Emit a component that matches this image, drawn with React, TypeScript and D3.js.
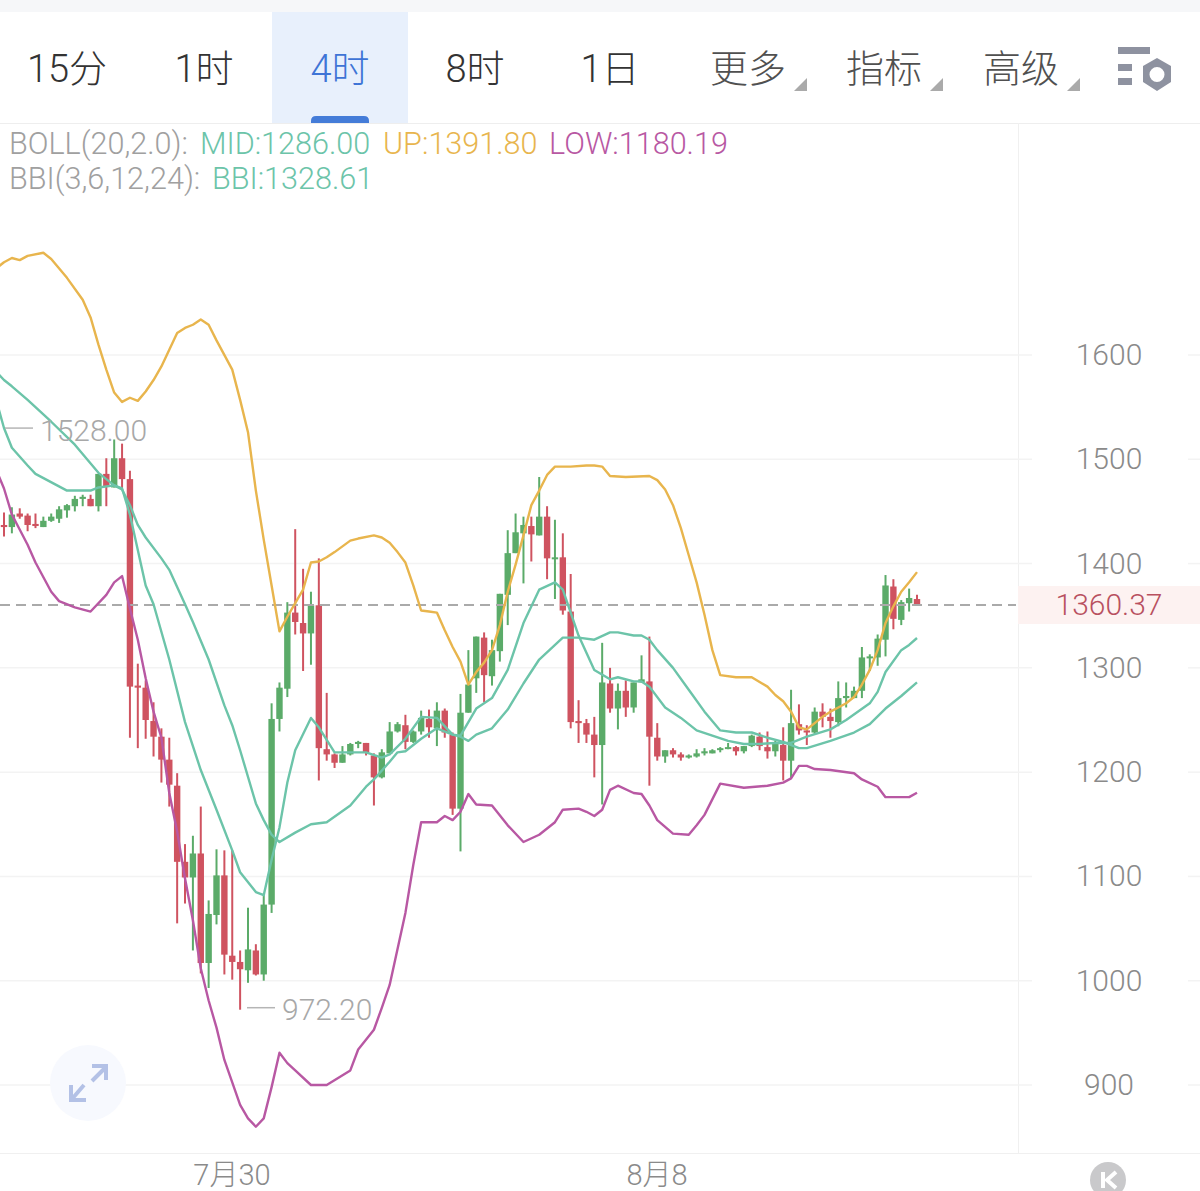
import React from "react";
import * as d3 from "d3";

const timeframeTabs = ["15分", "1时", "4时", "8时", "1日"];
const menuTabs = ["更多", "指标", "高级"];
const priceTicks = [900, 1000, 1100, 1200, 1300, 1400, 1500, 1600];
const dateTicks = [{ bar: 29, label: "7月30" }, { bar: 83, label: "8月8" }];
const lastPrice = 1360.37;
const highMark = 1528.0;
const lowMark = 972.2;

const opens = [1437,1435,1448,1446,1438,1435,1441,1443,1451,1455,
1462,1462,1455,1486,1473,1501,1481,1283,1281,1249,
1234,1212,1187,1114,1099,1122,1017,1063,1101,1024,
1018,1010,1029,1006,1073,1251,1280,1353,1343,1333,
1360,1222,1217,1209,1217,1227,1228,1216,1195,1218,
1239,1245,1229,1239,1251,1242,1259,1236,1165,1257,
1290,1329,1292,1316,1370,1410,1429,1436,1427,1445,
1405,1406,1354,1249,1247,1236,1226,1285,1261,1278,
1262,1286,1287,1233,1215,1221,1217,1214,1215,1218,
1218,1222,1223,1224,1220,1225,1234,1224,1220,1226,
1211,1246,1240,1238,1258,1253,1248,1271,1271,1278,
1310,1310,1327,1378,1346,1362,1366];
const closes = [1435,1447,1445,1437,1436,1441,1445,1452,1456,1462,
1464,1455,1486,1474,1501,1481,1282,1281,1250,1234,
1212,1188,1114,1099,1122,1017,1064,1101,1025,1018,
1011,1030,1006,1073,1251,1281,1353,1344,1333,1360,
1223,1217,1209,1217,1227,1229,1219,1195,1219,1239,
1246,1229,1239,1252,1243,1259,1238,1165,1257,1284,
1330,1293,1317,1371,1410,1430,1437,1428,1445,1405,
1406,1355,1248,1247,1236,1226,1286,1261,1278,1262,
1286,1289,1234,1215,1221,1217,1214,1216,1218,1220,
1221,1223,1224,1220,1225,1235,1225,1220,1228,1211,
1247,1240,1238,1258,1253,1249,1271,1273,1278,1310,
1311,1328,1379,1347,1363,1367,1360.37];
const highs = [1449,1454,1453,1448,1448,1445,1448,1455,1457,1465,
1466,1466,1486,1501,1519,1515,1489,1304,1288,1267,
1242,1233,1199,1131,1139,1167,1077,1126,1125,1125,
1029,1070,1035,1082,1266,1286,1363,1433,1395,1373,
1405,1276,1218,1225,1228,1230,1228,1218,1222,1248,
1248,1255,1240,1259,1260,1267,1261,1238,1275,1317,
1330,1334,1327,1371,1432,1448,1445,1445,1483,1455,
1442,1429,1390,1269,1251,1253,1324,1300,1285,1288,
1286,1312,1330,1247,1221,1223,1219,1217,1222,1223,
1222,1224,1228,1225,1225,1236,1238,1239,1230,1243,
1279,1265,1245,1262,1266,1261,1287,1286,1282,1320,
1313,1332,1389,1385,1365,1376,1370];
const lows = [1426,1429,1443,1431,1434,1435,1440,1439,1444,1450,
1455,1455,1450,1455,1473,1471,1233,1223,1232,1215,
1190,1167,1055,1074,1029,1007,993,1054,1006,1001,
972.2,998,1005,1000,1065,1239,1272,1332,1297,1303,
1192,1211,1204,1209,1216,1223,1216,1168,1194,1218,
1238,1222,1228,1236,1233,1225,1233,1159,1124,1257,
1276,1267,1283,1306,1341,1410,1381,1402,1427,1385,
1366,1351,1242,1228,1228,1195,1169,1257,1241,1253,
1257,1286,1187,1211,1209,1214,1211,1213,1214,1216,
1218,1219,1222,1216,1218,1224,1221,1213,1215,1192,
1194,1236,1226,1236,1243,1233,1244,1262,1271,1271,
1297,1302,1311,1337,1341,1354,1360];

const upSeries: [number, number][] = [[-1,1683],[0,1689],[1,1693],[2,1691],[3,1695],[5,1698],[6,1692],[8,1674],[10,1653],[11,1636],[12,1610],[13,1586],[14,1564],[15,1555],[16,1559],[17,1556],[18,1565],[19,1576],[20,1589],[21,1605],[22,1621],[23,1626],[24,1629],[25,1634],[26,1629],[27,1614],[29,1586],[30,1557],[31,1526],[32,1470],[33,1423],[34,1379],[35,1335],[36,1349],[37,1362],[38,1375],[39,1401],[40,1402],[41,1406],[42,1411],[44,1422],[45,1424],[47,1427],[48,1425],[49,1420],[50,1411],[51,1401],[52,1379],[53,1355],[54,1354],[55,1353],[56,1336],[57,1320],[58,1306],[59,1284],[60,1296],[61,1305],[62,1317],[63,1341],[64,1373],[65,1399],[66,1427],[67,1456],[68,1470],[69,1485],[70,1493],[72,1493],[74,1494],[75,1494],[76,1493],[77,1484],[79,1483],[82,1484],[83,1480],[84,1471],[85,1456],[86,1434],[87,1408],[88,1382],[89,1351],[90,1317],[91,1293],[93,1291],[95,1291],[97,1282],[98,1274],[99,1268],[100,1258],[101,1243],[102,1241],[103,1247],[104,1253],[105,1258],[106,1262],[107,1266],[108,1272],[109,1284],[110,1298],[111,1317],[112,1343],[113,1359],[114,1373],[115,1382],[116,1391.8]];
const midSeries: [number, number][] = [[-1,1584],[0,1576],[1,1570],[3,1557],[6,1536],[9,1514],[12,1487],[14,1475],[15,1471],[16,1456],[17,1437],[18,1425],[20,1405],[21,1394],[23,1361],[24,1344],[26,1308],[28,1264],[29,1245],[30,1221],[32,1170],[33,1154],[34,1140],[35,1133],[37,1142],[39,1150],[41,1152],[44,1168],[46,1186],[47,1193],[49,1210],[50,1219],[51,1220],[53,1232],[55,1242],[57,1236],[58,1234],[59,1230],[60,1236],[62,1242],[64,1260],[66,1285],[68,1308],[71,1329],[73,1329],[75,1327],[77,1334],[78,1334],[80,1331],[81,1331],[82,1327],[83,1317],[85,1300],[87,1279],[89,1258],[91,1240],[93,1238],[95,1238],[97,1233],[99,1229],[101,1223],[102,1223],[105,1230],[108,1238],[110,1246],[112,1261],[114,1273],[116,1286]];
const bbiSeries: [number, number][] = [[-1,1557],[0,1530],[1,1511],[3,1494],[4,1486],[8,1470],[11,1470],[12,1473],[14,1475],[15,1472],[16,1447],[18,1379],[19,1361],[21,1308],[23,1248],[25,1202],[27,1164],[29,1125],[30,1104],[32,1085],[33,1082],[34,1116],[35,1147],[36,1190],[37,1221],[39,1252],[40,1243],[42,1219],[44,1219],[46,1219],[48,1214],[49,1217],[51,1232],[53,1253],[55,1252],[57,1236],[58,1235],[60,1261],[62,1271],[64,1298],[66,1343],[68,1375],[70,1382],[71,1375],[73,1331],[75,1298],[77,1289],[78,1291],[80,1287],[81,1287],[82,1282],[84,1262],[86,1252],[88,1240],[90,1235],[92,1230],[94,1227],[96,1227],[98,1228],[100,1228],[102,1234],[105,1241],[107,1250],[110,1266],[111,1277],[112,1296],[114,1317],[115,1322],[116,1328.61]];
const lowSeries: [number, number][] = [[-1,1490],[0,1472],[1,1447],[3,1418],[4,1401],[6,1373],[7,1364],[9,1358],[11,1354],[13,1370],[14,1382],[15,1388],[16,1357],[17,1327],[18,1290],[19,1258],[20,1233],[21,1180],[22,1143],[23,1098],[24,1058],[25,1012],[26,981],[27,955],[28,924],[30,881],[31,868],[32,860],[33,868],[34,898],[35,931],[36,921],[37,914],[39,900],[41,900],[44,914],[45,934],[47,953],[48,974],[49,996],[51,1065],[52,1111],[53,1152],[55,1152],[56,1158],[57,1154],[58,1162],[59,1179],[60,1169],[62,1168],[64,1149],[66,1133],[68,1140],[70,1152],[71,1164],[73,1165],[74,1162],[75,1158],[76,1164],[77,1183],[78,1187],[80,1180],[81,1179],[82,1168],[83,1154],[85,1141],[87,1140],[88,1149],[89,1159],[91,1189],[94,1185],[97,1187],[99,1190],[100,1194],[101,1206],[102,1206],[103,1203],[105,1202],[108,1199],[109,1193],[111,1186],[112,1176],[115,1176],[116,1180.19]];

const W = 1200;
const H = 1191;
const RED = "#cf5360";
const GREEN = "#5bab69";
const TEAL = "#6cc4a9";
const YELLOW = "#e8b54d";
const MAGENTA = "#b858a3";
const FONT = "Roboto, 'Noto Sans CJK SC', sans-serif";

const x = d3.scaleLinear().domain([0, 116]).range([4, 917]);
const y = d3.scaleLinear().domain([900, 1600]).range([1085, 355]);
const linePath = d3.line<[number, number]>().x((d) => x(d[0])).y((d) => y(d[1]));
const tabCenters = [67, 204, 340, 475, 610];
const menuCenters = [748, 884, 1021];

export default function App() {
  return (
    <svg width={W} height={H} viewBox={`0 0 ${W} ${H}`} style={{ position: "absolute", left: 0, top: 0, display: "block", background: "#fff" }} fontFamily={FONT}>
      <rect x={0} y={0} width={W} height={12} fill="#f6f7f9" />
      <rect x={272} y={12} width={136} height={111} fill="#e8f0fc" />
      <path d="M311,123 V121 Q311,116 316,116 H364 Q369,116 369,121 V123 Z" fill="#447cd8" />
      <line x1={0} x2={W} y1={123.5} y2={123.5} stroke="#eeeeee" strokeWidth={1} />
      {timeframeTabs.map((t, i) => (
        <text key={t} x={tabCenters[i]} y={82} fontSize={38} textAnchor="middle" fill={i === 2 ? "#3e74d6" : "#333333"} fontWeight={300}>{t}</text>
      ))}
      {menuTabs.map((t, i) => (
        <g key={t}>
          <text x={menuCenters[i]} y={82} fontSize={38} textAnchor="middle" fill="#505050" fontWeight={300}>{t}</text>
          <path d={`M${menuCenters[i] + 46},91 h13 v-13 Z`} fill="#aaaaaa" />
        </g>
      ))}
      <g fill="#8e92a0">
        <rect x={1118} y={47} width={32} height={7} />
        <rect x={1118} y={64} width={14} height={7} />
        <rect x={1118} y={78} width={14} height={7} />
      </g>
      <path d="M1157,58 L1171,66 V82 L1157,91 L1143,82 V66 Z M1157,67 A7.5,7.5 0 1,0 1157,82 A7.5,7.5 0 1,0 1157,67 Z" fill="#8e92a0" fillRule="evenodd" />

      <line x1={1018.5} x2={1018.5} y1={123} y2={1153} stroke="#f0f0f0" strokeWidth={1} />
      <line x1={0} x2={W} y1={1153.5} y2={1153.5} stroke="#f0f0f0" strokeWidth={1} />
      {priceTicks.map((p) => (
        <g key={p}>
          <line x1={0} x2={1032} y1={y(p)} y2={y(p)} stroke="#f3f3f3" strokeWidth={1.5} />
          <line x1={1188} x2={W} y1={y(p)} y2={y(p)} stroke="#f3f3f3" strokeWidth={1.5} />
          <text x={1109} y={y(p) + 10} fontSize={30} textAnchor="middle" fill="#8a8a8a" fontWeight={300}>{p}</text>
        </g>
      ))}

      <rect x={1018} y={586} width={182} height={38} fill="#fdf2f1" />
      <text x={1109} y={615} fontSize={30} textAnchor="middle" fill="#b8505f" fontWeight={300}>{lastPrice.toFixed(2)}</text>

      {opens.map((o, i) => {
        const c = closes[i];
        const color = c > o ? GREEN : RED;
        const top = y(Math.max(o, c));
        const bottom = y(Math.min(o, c));
        return (
          <g key={i}>
            <line x1={x(i)} x2={x(i)} y1={y(highs[i])} y2={y(lows[i])} stroke={color} strokeWidth={2} />
            <rect x={x(i) - 3.2} y={top} width={6.4} height={Math.max(bottom - top, 2)} fill={color} />
          </g>
        );
      })}

      <line x1={0} x2={1016} y1={605} y2={605} stroke="#aaaaaa" strokeWidth={2} strokeDasharray="10 6" />

      <path d={linePath(upSeries) ?? ""} fill="none" stroke={YELLOW} strokeWidth={2.4} strokeLinejoin="round" />
      <path d={linePath(midSeries) ?? ""} fill="none" stroke={TEAL} strokeWidth={2.4} strokeLinejoin="round" />
      <path d={linePath(bbiSeries) ?? ""} fill="none" stroke={TEAL} strokeWidth={2.4} strokeLinejoin="round" />
      <path d={linePath(lowSeries) ?? ""} fill="none" stroke={MAGENTA} strokeWidth={2.4} strokeLinejoin="round" />

      <line x1={5} x2={33} y1={y(highMark) - 2} y2={y(highMark) - 2} stroke="#b5b5b5" strokeWidth={1.5} />
      <text x={40} y={y(highMark) + 11} fontSize={30} fill="#a8a8a8" fontWeight={300}>{highMark.toFixed(2)}</text>
      <line x1={247} x2={275} y1={y(lowMark) - 2} y2={y(lowMark) - 2} stroke="#b5b5b5" strokeWidth={1.5} />
      <text x={282} y={y(lowMark) + 10} fontSize={30} fill="#a8a8a8" fontWeight={300}>{lowMark.toFixed(2)}</text>

      <text y={154} fontSize={30.6} fontWeight={300}>
        <tspan x={9} fill="#a0a0a0">BOLL(20,2.0): </tspan>
        <tspan x={200} fill={TEAL}>MID:1286.00</tspan>
        <tspan x={383} fill={YELLOW}>UP:1391.80</tspan>
        <tspan x={549} fill={MAGENTA}>LOW:1180.19</tspan>
      </text>
      <text y={189} fontSize={30.6} fontWeight={300}>
        <tspan x={9} fill="#a0a0a0">BBI(3,6,12,24): </tspan>
        <tspan x={212} fill={TEAL}>BBI:1328.61</tspan>
      </text>

      <circle cx={88} cy={1083} r={38} fill="#f7f9fe" />
      <g fill="none" stroke="#b3c1e6" strokeWidth={4}>
        <path d="M92,1081 L105,1068" />
        <path d="M92,1066 H106 V1080" />
        <path d="M84,1085 L72,1099" />
        <path d="M71,1085 V1100 H86" />
      </g>

      {dateTicks.map((d) => (
        <text key={d.label} x={d.label === "7月30" ? 232 : 657} y={1185} fontSize={29} textAnchor="middle" fill="#8a8a8a" fontWeight={300}>{d.label}</text>
      ))}
      <circle cx={1108} cy={1180} r={18} fill="#c9c9cb" />
      <path d="M1103,1172 V1188 M1116,1172 L1107,1180 L1116,1188" fill="none" stroke="#ffffff" strokeWidth={4} />
    </svg>
  );
}
